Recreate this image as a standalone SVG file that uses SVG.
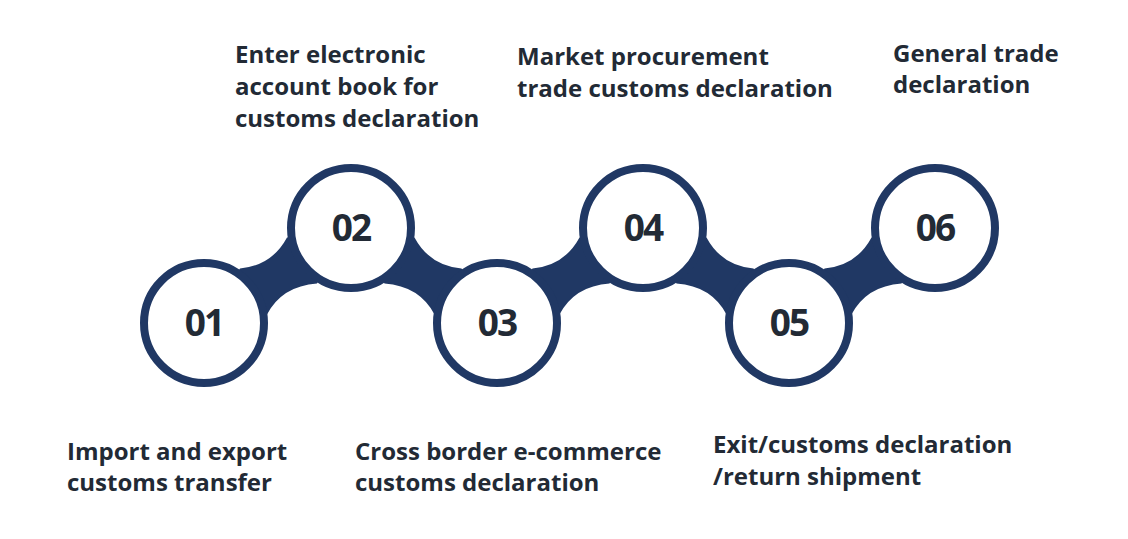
<svg xmlns="http://www.w3.org/2000/svg" width="1128" height="539" viewBox="0 0 1128 539">
<style>
.ring{fill:#ffffff;stroke:#203864;stroke-width:8}
.neck{fill:#203864}
.num{font-family:"Open Sans","Liberation Sans",sans-serif;font-weight:700;font-size:37px;fill:#222a35;text-anchor:middle;letter-spacing:-2px}
.lbl{font-family:"Open Sans","Liberation Sans",sans-serif;font-weight:700;font-size:24px;fill:#222a35}
</style>
<defs>
<path id="neckUp" d="M -73.5,47.5 L -37.5,-7 Q -5.5,-10 9.5,-38 L 73.5,-47.5 L 39.5,8 Q 4.5,10.5 -10.5,39 Z"/>
</defs>
<rect width="1128" height="539" fill="#ffffff"/>
<g id="connectors" class="neck">
<use href="#neckUp" transform="translate(277.5,275.5)"/>
<use href="#neckUp" transform="translate(424,275.5) scale(-1,1)"/>
<use href="#neckUp" transform="translate(570,275.5)"/>
<use href="#neckUp" transform="translate(716,275.5) scale(-1,1)"/>
<use href="#neckUp" transform="translate(862,275.5)"/>
</g>
<g id="node01"><circle class="ring" cx="204" cy="323" r="60"/><text class="num" x="204" y="336">01</text>
<text class="lbl" x="67" y="460">Import and export</text><text class="lbl" x="67" y="491">customs transfer</text></g>
<g id="node02"><circle class="ring" cx="351" cy="228" r="60"/><text class="num" x="351" y="241">02</text>
<text class="lbl" x="235" y="63">Enter electronic</text><text class="lbl" x="235" y="95">account book for</text><text class="lbl" x="235" y="127">customs declaration</text></g>
<g id="node03"><circle class="ring" cx="497" cy="323" r="60"/><text class="num" x="497" y="336">03</text>
<text class="lbl" x="355" y="460">Cross border e-commerce</text><text class="lbl" x="355" y="491">customs declaration</text></g>
<g id="node04"><circle class="ring" cx="643" cy="228" r="60"/><text class="num" x="643" y="241">04</text>
<text class="lbl" x="517" y="65">Market procurement</text><text class="lbl" x="517" y="97">trade customs declaration</text></g>
<g id="node05"><circle class="ring" cx="789" cy="323" r="60"/><text class="num" x="789" y="336">05</text>
<text class="lbl" x="713" y="453">Exit/customs declaration</text><text class="lbl" x="713" y="485">/return shipment</text></g>
<g id="node06"><circle class="ring" cx="935" cy="228" r="60"/><text class="num" x="935" y="241">06</text>
<text class="lbl" x="893" y="62">General trade</text><text class="lbl" x="893" y="93">declaration</text></g>
</svg>
